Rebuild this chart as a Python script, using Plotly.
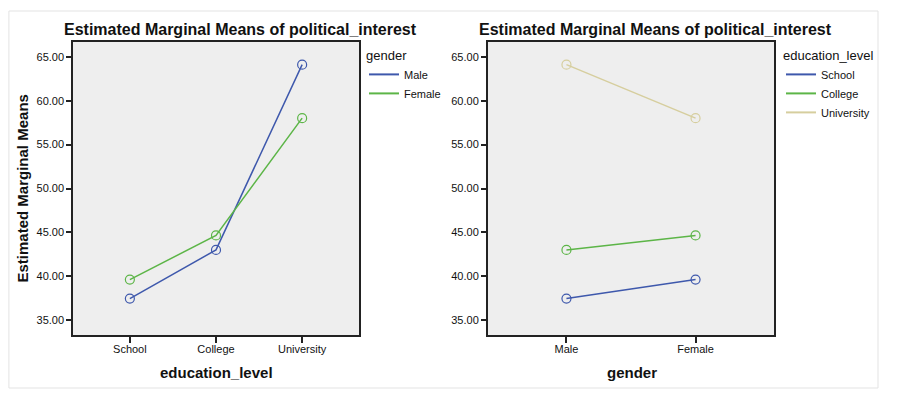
import plotly.graph_objects as go

education_levels = ["School", "College", "University"]
genders = ["Male", "Female"]
male_means = [37.45, 43.0, 64.12]
female_means = [39.62, 44.65, 58.02]
# by education level across gender
school_means = [37.45, 39.62]
college_means = [43.0, 44.65]
university_means = [64.12, 58.02]
y_ticks = [35, 40, 45, 50, 55, 60, 65]

BLUE = "#3E58AC"
GREEN = "#5CB547"
TAN = "#D6CE9E"
FONT = "Liberation Sans, Arial, sans-serif"

fig = go.Figure()

def add_series(x, y, color, name, xa, ya, legend):
    fig.add_trace(go.Scatter(
        x=x, y=y, mode="lines+markers", xaxis=xa, yaxis=ya,
        line=dict(color=color, width=1.5),
        marker=dict(symbol="circle-open", size=9, color=color, line=dict(width=1.2)),
        showlegend=False, hoverinfo="x+y+name", name=name))
    fig.add_trace(go.Scatter(
        x=[None], y=[None], mode="lines", xaxis=xa, yaxis=ya,
        line=dict(color=color, width=2), name=name, legend=legend, showlegend=True))

add_series(education_levels, male_means, BLUE, "Male", "x", "y", "legend")
add_series(education_levels, female_means, GREEN, "Female", "x", "y", "legend")
add_series(genders, school_means, BLUE, "School", "x2", "y2", "legend2")
add_series(genders, college_means, GREEN, "College", "x2", "y2", "legend2")
add_series(genders, university_means, TAN, "University", "x2", "y2", "legend2")

# page body has an 8px margin; figure is sized to fill the rest of the window
OFF = 8
W, H = 903 - OFF, 395 - OFF
def px_x(p): return (p - OFF) / W
def px_y(p): return 1 - (p - OFF) / H

ydom = [px_y(335), px_y(42)]
axis_common = dict(showline=True, linecolor="#222", linewidth=1.5, mirror=True,
                   ticks="outside", tickwidth=1.5, tickcolor="#222",
                   showgrid=False, zeroline=False,
                   tickfont=dict(family=FONT, size=11, color="#111"))
x_extra = dict(ticklen=6, ticklabelstandoff=-3)
y_extra = dict(ticklen=5)

legend_common = dict(xanchor="left", yanchor="top", bgcolor="rgba(0,0,0,0)",
                     itemwidth=30, tracegroupgap=0,
                     font=dict(family=FONT, size=11, color="#111"))

fig.update_layout(
    width=W, height=H, margin=dict(l=0, r=0, t=0, b=0),
    paper_bgcolor="white", plot_bgcolor="#EEEEEE",
    font=dict(family=FONT, color="#111"),
    xaxis=dict(domain=[px_x(73), px_x(359)], type="category", range=[-0.66, 2.66],
               anchor="y", **axis_common, **x_extra),
    yaxis=dict(domain=ydom, range=[33.3, 66.7], tickvals=y_ticks, tickformat=".2f",
               anchor="x", **axis_common, **y_extra),
    xaxis2=dict(domain=[px_x(487.7), px_x(774.3)], type="category", range=[-0.61, 1.61],
                anchor="y2", **axis_common, **x_extra),
    yaxis2=dict(domain=ydom, range=[33.3, 66.7], tickvals=y_ticks, tickformat=".2f",
                anchor="x2", **axis_common, **y_extra),
    legend=dict(x=px_x(364), y=px_y(43),
                title=dict(text="gender", side="top",
                           font=dict(family=FONT, size=13, color="#111")),
                **legend_common),
    legend2=dict(x=px_x(781), y=px_y(43),
                 title=dict(text="education_level", side="top",
                            font=dict(family=FONT, size=13, color="#111")),
                 **legend_common),
)

annotations = [
    dict(text="<b>Estimated Marginal Means of political_interest</b>", x=px_x(240.5), y=px_y(30),
         font=dict(family=FONT, size=16, color="#111")),
    dict(text="<b>Estimated Marginal Means of political_interest</b>", x=px_x(655.7), y=px_y(30),
         font=dict(family=FONT, size=16, color="#111")),
    dict(text="<b>education_level</b>", x=px_x(216), y=px_y(372),
         font=dict(family=FONT, size=15, color="#111")),
    dict(text="<b>gender</b>", x=px_x(632), y=px_y(372),
         font=dict(family=FONT, size=15, color="#111")),
    dict(text="<b>Estimated Marginal Means</b>", x=px_x(22), y=px_y(188.5), textangle=-90,
         font=dict(family=FONT, size=15, color="#111")),
]
for a in annotations:
    a.update(xref="paper", yref="paper", showarrow=False, xanchor="center", yanchor="middle")
    fig.add_annotation(**a)

fig.add_shape(type="rect", xref="paper", yref="paper",
              x0=0.001, x1=px_x(878), y0=px_y(388), y1=px_y(11),
              line=dict(color="#E3E3E3", width=1), layer="below")

fig.write_html("out.html")
